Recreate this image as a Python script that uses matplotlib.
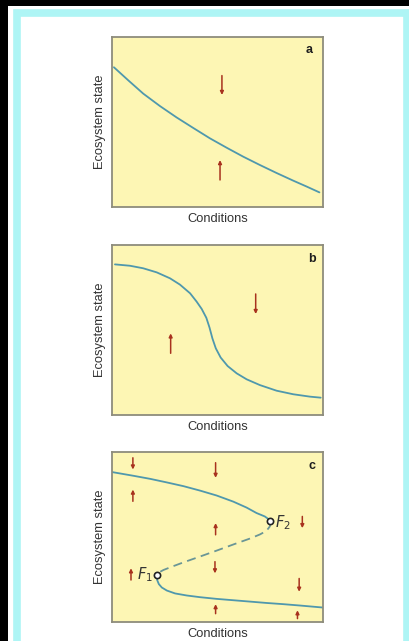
import matplotlib
matplotlib.use("Agg")
import matplotlib.pyplot as plt
from matplotlib.patches import Rectangle

# ---------------- data (axis fraction units, 0-1) ----------------
xlabel_text = "Conditions"
ylabel_text = "Ecosystem state"
panel_labels = ["a", "b", "c"]

a_x = [0.009, 0.079, 0.148, 0.227, 0.306, 0.385, 0.464, 0.543, 0.622, 0.701, 0.780, 0.859, 0.923, 0.983]
a_y = [0.822, 0.743, 0.667, 0.594, 0.527, 0.465, 0.404, 0.349, 0.296, 0.247, 0.200, 0.155, 0.120, 0.086]
a_arrows = [(0.521, 0.773, 0.659), (0.512, 0.159, 0.276)]  # x, y_start, y_end

b_x = [0.014, 0.085, 0.148, 0.212, 0.275, 0.322, 0.370, 0.401, 0.425, 0.447, 0.462, 0.476,
       0.492, 0.515, 0.548, 0.591, 0.638, 0.701, 0.780, 0.859, 0.938, 0.989]
b_y = [0.886, 0.878, 0.863, 0.839, 0.804, 0.767, 0.716, 0.667, 0.624, 0.572, 0.515, 0.450,
       0.392, 0.338, 0.288, 0.245, 0.210, 0.176, 0.143, 0.122, 0.108, 0.102]
b_arrows = [(0.278, 0.363, 0.48), (0.681, 0.712, 0.594)]

c_upper_x = [0.0, 0.102, 0.181, 0.260, 0.339, 0.417, 0.496, 0.575, 0.638, 0.685, 0.724, 0.740, 0.751]
c_upper_y = [0.882, 0.860, 0.842, 0.821, 0.799, 0.773, 0.744, 0.708, 0.673, 0.641, 0.621, 0.607, 0.592]
c_mid_x = [0.751, 0.748, 0.732, 0.701, 0.654, 0.575, 0.496, 0.417, 0.339, 0.283, 0.244, 0.220, 0.213]
c_mid_y = [0.592, 0.562, 0.536, 0.515, 0.491, 0.456, 0.420, 0.385, 0.351, 0.325, 0.306, 0.290, 0.276]
c_lower_x = [0.213, 0.214, 0.222, 0.236, 0.260, 0.299, 0.354, 0.417, 0.496, 0.575, 0.654,
             0.732, 0.811, 0.890, 1.0]
c_lower_y = [0.276, 0.247, 0.223, 0.203, 0.185, 0.168, 0.156, 0.146, 0.136, 0.128, 0.120,
             0.112, 0.105, 0.097, 0.085]
c_fold_x = [0.213, 0.751]
c_fold_y = [0.276, 0.592]
c_fold_labels = ["$F_1$", "$F_2$"]
c_arrows = [(0.099, 0.966, 0.897), (0.099, 0.710, 0.779), (0.491, 0.937, 0.848),
            (0.491, 0.513, 0.582), (0.902, 0.621, 0.552), (0.09, 0.247, 0.316),
            (0.488, 0.355, 0.286), (0.887, 0.256, 0.178), (0.491, 0.049, 0.105),
            (0.879, 0.020, 0.069)]

# ---------------- style ----------------
plt.rcParams['font.family'] = ['Liberation Sans', 'DejaVu Sans']
W, H = 410, 641
fig = plt.figure(figsize=(W / 100, H / 100), dpi=100, facecolor='black')

# white card with cyan frame
fig.patches.append(Rectangle((8 / W, 0), 1 - 8 / W, 1 - 6 / H, transform=fig.transFigure,
                             facecolor='white', edgecolor='none', zorder=-3))
fig.patches.append(Rectangle((17 / W, -0.05), (407 - 17) / W, 1.05 - 13.5 / H,
                             transform=fig.transFigure, facecolor='none',
                             edgecolor='#aef5f5', linewidth=5.5, zorder=-2))

YELLOW = '#fdf6b4'
CURVE = '#4f98ad'
DASH = '#6a9696'
ARROW = '#a8321e'
EDGE = '#8e8c7c'
TXT = '#333333'

ax_left, ax_w, ax_h = 112 / W, 211 / W, 170 / H
bottoms = [(H - 207) / H, (H - 415) / H, (H - 622) / H]
label_pos = [(0.935, 0.924), (0.946, 0.916), (0.946, 0.92)]

axes = []
for i, b in enumerate(bottoms):
    ax = fig.add_axes([ax_left, b, ax_w, ax_h], zorder=2)
    ax.set_facecolor(YELLOW)
    ax.set_xlim(0, 1)
    ax.set_ylim(0, 1)
    ax.set_xticks([])
    ax.set_yticks([])
    for s in ax.spines.values():
        s.set_color(EDGE)
        s.set_linewidth(1.3)
    ax.set_xlabel(xlabel_text, fontsize=9.3, color=TXT, labelpad=4)
    ax.set_ylabel(ylabel_text, fontsize=9.3, color=TXT, labelpad=4)
    ax.text(label_pos[i][0], label_pos[i][1], panel_labels[i], transform=ax.transAxes,
            ha='center', va='center', fontsize=9, fontweight='bold', color='#1e1e1e')
    axes.append(ax)


def draw_arrows(ax, arrows):
    for x, y0, y1 in arrows:
        ax.annotate('', xy=(x, y1), xytext=(x, y0),
                    arrowprops=dict(arrowstyle='-|>', color=ARROW, lw=1.1,
                                    mutation_scale=5, shrinkA=0, shrinkB=0))


line_kw = dict(color=CURVE, lw=1.3, solid_joinstyle='round', solid_capstyle='round')

# panel a
axes[0].plot(a_x, a_y, **line_kw)
draw_arrows(axes[0], a_arrows)

# panel b
axes[1].plot(b_x, b_y, **line_kw)
draw_arrows(axes[1], b_arrows)

# panel c
ac = axes[2]
ac.plot(c_upper_x, c_upper_y, **line_kw)
ac.plot(c_lower_x, c_lower_y, **line_kw)
ac.plot(c_mid_x, c_mid_y, color=DASH, lw=1.3, ls=(0, (5, 3)))
ac.plot(c_fold_x, c_fold_y, ls='none', marker='o', ms=4.5, mfc='white', mec='#222222',
        mew=1.2, zorder=5)
ac.text(c_fold_x[0] - 0.02, c_fold_y[0] + 0.005, c_fold_labels[0], ha='right', va='center',
        fontsize=10.5, color=TXT)
ac.text(c_fold_x[1] + 0.02, c_fold_y[1] - 0.005, c_fold_labels[1], ha='left', va='center',
        fontsize=10.5, color=TXT)
draw_arrows(ac, c_arrows)

fig.savefig('out.png', dpi=100, facecolor=fig.get_facecolor())
